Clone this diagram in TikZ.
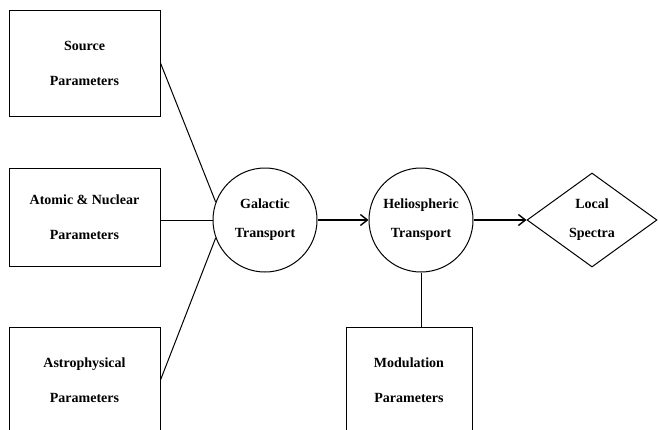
\documentclass[tikz,border=0pt]{standalone}
\usepackage{fontspec}
\setmainfont{Liberation Serif}
\usetikzlibrary{arrows.meta,shapes.geometric}

\begin{document}
\begin{tikzpicture}[x=1pt,y=-1pt,line width=1pt,
  every node/.style={align=center},
  boxtxt/.style={font=\bfseries\fontsize{14}{35}\selectfont},
  rndtxt/.style={font=\bfseries\fontsize{14}{29}\selectfont},
  parbox/.style={draw,rectangle,boxtxt,inner sep=0pt,minimum width=151pt,minimum height=106pt},
  stage/.style={draw,circle,rndtxt,inner sep=0pt,minimum size=104pt},
  flow/.style={-{Straight Barb[length=7pt,width=11pt,line width=1.4pt]},line width=1.4pt}]
\useasboundingbox (0,0) rectangle (658,429);
\clip (0,0) rectangle (658,429);

% input parameters on the left
\node[parbox] (src) at (84.5,63) {Source\\Parameters};
\node[parbox,minimum height=98pt] (atom) at (84.5,217) {Atomic \& Nuclear\\Parameters};
\node[parbox] (astro) at (84.5,380) {Astrophysical\\Parameters};

% transport stages
\node[stage] (gal) at (265,220) {Galactic\\Transport};
\node[stage] (helio) at (421,220) {Heliospheric\\Transport};
\node[draw,diamond,rndtxt,inner sep=0pt,minimum width=130pt,minimum height=94pt] (spec) at (592,220) {Local\\Spectra};
\node[parbox,minimum width=126pt] (mod) at (409,380) {Modulation\\Parameters};

\draw (src.east) -- (gal.160);
\draw (atom.east |- gal.west) -- (gal.west);
\draw (astro.east) -- (gal.200);
\draw[flow] (gal) -- (helio);
\draw[flow] (helio) -- (spec);
\draw (helio.south) -- (helio.south |- mod.north);
\end{tikzpicture}
\end{document}
